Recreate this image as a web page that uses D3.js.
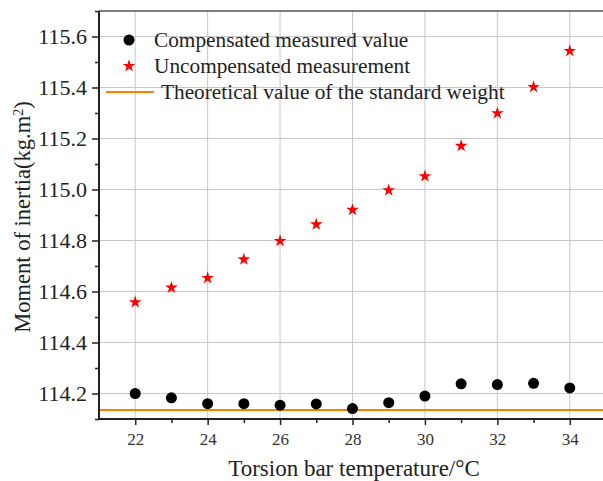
<!DOCTYPE html>
<html>
<head>
<meta charset="utf-8">
<script src="https://cdn.jsdelivr.net/npm/d3@7"></script>
<style>
  body { margin: 0; background: #fff; }
  svg text { font-family: "Liberation Serif", "Times New Roman", serif; fill: #222; }
</style>
</head>
<body>
<svg id="chart" width="603" height="481"></svg>
<script>
// temperatures (°C)
var temps = [22, 23, 24, 25, 26, 27, 28, 29, 30, 31, 32, 33, 34];
// compensated measured value
var compensated = [114.200, 114.183, 114.160, 114.160, 114.154, 114.159, 114.141, 114.164, 114.190, 114.238, 114.235, 114.240, 114.222];
// uncompensated measurement
var uncompensated = [114.558, 114.615, 114.653, 114.726, 114.798, 114.863, 114.920, 114.997, 115.052, 115.171, 115.299, 115.402, 115.543];
// theoretical value of the standard weight
var theoretical = 114.135;

var xTicks = [22, 24, 26, 28, 30, 32, 34];
var xMinor = [23, 25, 27, 29, 31, 33];
var yTicks = [114.2, 114.4, 114.6, 114.8, 115.0, 115.2, 115.4, 115.6];
var yMinor = [114.1, 114.3, 114.5, 114.7, 114.9, 115.1, 115.3, 115.5, 115.7];

var legendLabels = ["Compensated measured value", "Uncompensated measurement", "Theoretical value of the standard weight"];

var svg = d3.select("#chart");

var pLeft = 99, pRight = 606, pTop = 11, pBottom = 419;

var x = d3.scaleLinear().domain([21, 35]).range([pLeft, pRight]);
var y = d3.scaleLinear().domain([114.1, 115.7]).range([pBottom, pTop]);

// grid
svg.append("g").selectAll("line").data(xTicks).enter().append("line")
  .attr("x1", d => x(d)).attr("x2", d => x(d))
  .attr("y1", pTop).attr("y2", pBottom)
  .attr("stroke", "#c8c8c8").attr("stroke-width", 1);

svg.append("g").selectAll("line").data(yTicks).enter().append("line")
  .attr("x1", pLeft).attr("x2", 603)
  .attr("y1", d => y(d)).attr("y2", d => y(d))
  .attr("stroke", "#c8c8c8").attr("stroke-width", 1);

// theoretical line
svg.append("line")
  .attr("x1", pLeft).attr("x2", 603)
  .attr("y1", y(theoretical)).attr("y2", y(theoretical))
  .attr("stroke", "#ff8000").attr("stroke-width", 2);

// top border
svg.append("line")
  .attr("x1", pLeft).attr("x2", 603)
  .attr("y1", pTop).attr("y2", pTop)
  .attr("stroke", "#555").attr("stroke-width", 1.5);

// axes
var xAxis = svg.append("g")
  .attr("transform", "translate(0," + pBottom + ")")
  .call(d3.axisBottom(x).tickValues(xTicks).tickSize(6).tickPadding(8).tickFormat(d3.format("d")));
xAxis.select(".domain").remove();
xAxis.attr("font-family", null);
xAxis.selectAll("text").style("font-size", "17px").style("fill", "#333");
xAxis.selectAll("line").attr("stroke", "#222").attr("stroke-width", 1.5);

svg.append("g").attr("transform", "translate(0," + pBottom + ")")
  .call(d3.axisBottom(x).tickValues(xMinor).tickSize(4).tickFormat(""))
  .call(g => g.select(".domain").remove())
  .selectAll("line").attr("stroke", "#222").attr("stroke-width", 1.5);

var yAxis = svg.append("g")
  .attr("transform", "translate(" + pLeft + ",0)")
  .call(d3.axisLeft(y).tickValues(yTicks).tickSize(7).tickPadding(5).tickFormat(d3.format(".1f")));
yAxis.select(".domain").remove();
yAxis.attr("font-family", null);
yAxis.selectAll("text").style("font-size", "22px");
yAxis.selectAll("line").attr("stroke", "#222").attr("stroke-width", 1.5);

svg.append("g").attr("transform", "translate(" + pLeft + ",0)")
  .call(d3.axisLeft(y).tickValues(yMinor).tickSize(4).tickFormat(""))
  .call(g => g.select(".domain").remove())
  .selectAll("line").attr("stroke", "#222").attr("stroke-width", 1.5);

// axis lines
svg.append("line").attr("x1", pLeft).attr("x2", pLeft).attr("y1", pTop).attr("y2", pBottom + 1)
  .attr("stroke", "#222").attr("stroke-width", 2);
svg.append("line").attr("x1", pLeft - 1).attr("x2", 603).attr("y1", pBottom).attr("y2", pBottom)
  .attr("stroke", "#222").attr("stroke-width", 2);

// data points
svg.append("g").selectAll("circle").data(temps).enter().append("circle")
  .attr("cx", d => x(d))
  .attr("cy", (d, i) => y(compensated[i]))
  .attr("r", 5.5)
  .attr("fill", "#000");

var star = d3.symbol().type(d3.symbolStar).size(50);
svg.append("g").selectAll("path").data(temps).enter().append("path")
  .attr("d", star)
  .attr("transform", (d, i) => "translate(" + x(d) + "," + y(uncompensated[i]) + ")")
  .attr("fill", "#ff0000");

// legend
var lg = svg.append("g");
lg.append("circle").attr("cx", 129).attr("cy", 40).attr("r", 5.5).attr("fill", "#000");
lg.append("path").attr("d", star).attr("transform", "translate(129,66)").attr("fill", "#ff0000");
lg.append("line").attr("x1", 106).attr("x2", 154).attr("y1", 92).attr("y2", 92)
  .attr("stroke", "#ff8000").attr("stroke-width", 2);
lg.selectAll("text").data(legendLabels).enter().append("text")
  .attr("x", (d, i) => i === 2 ? 161 : 154)
  .attr("y", (d, i) => 40 + i * 26)
  .attr("dy", "0.35em")
  .style("font-size", "21.3px")
  .text(d => d);

// axis titles
svg.append("text")
  .attr("x", 354).attr("y", 476)
  .attr("text-anchor", "middle")
  .style("font-size", "23px")
  .text("Torsion bar temperature/°C");

svg.append("text")
  .attr("transform", "translate(30," + ((pTop + pBottom) / 2 + 2) + ") rotate(-90)")
  .attr("text-anchor", "middle")
  .style("font-size", "22.5px")
  .html("Moment of inertia(kg.m<tspan baseline-shift='super' font-size='14px'>2</tspan>)");
</script>
</body>
</html>
